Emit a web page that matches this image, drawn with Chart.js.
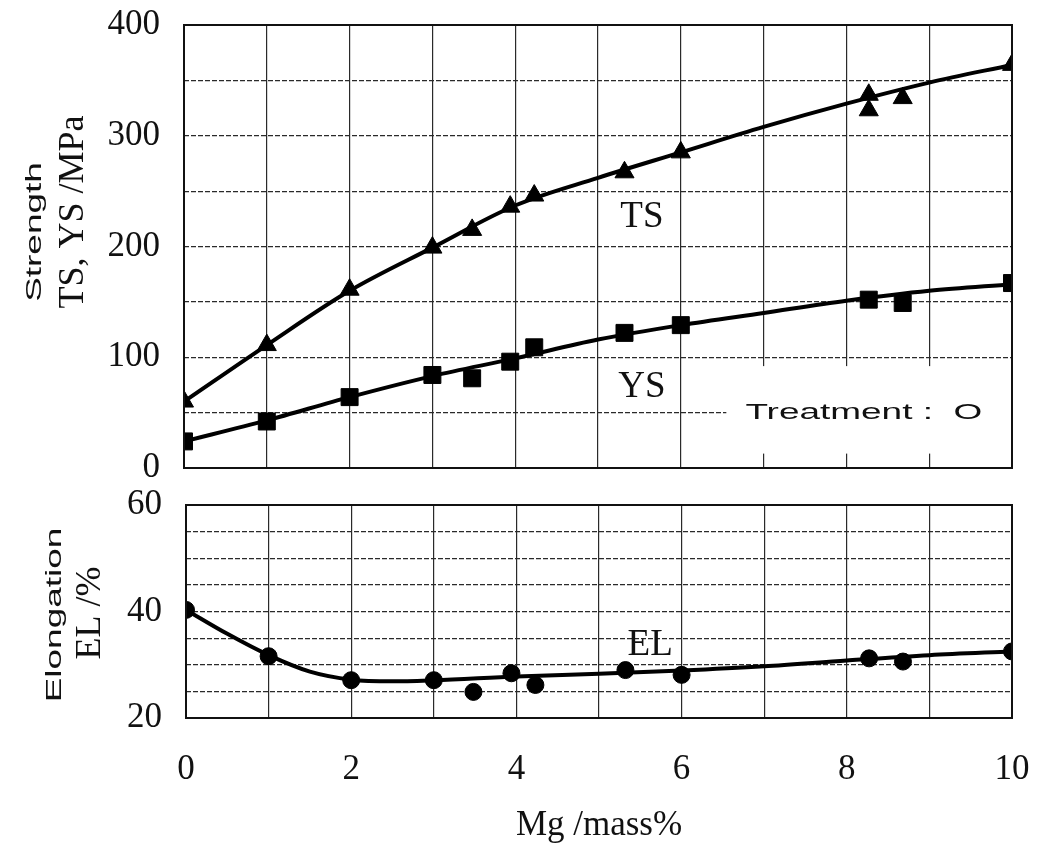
<!DOCTYPE html>
<html lang="en">
<head>
<meta charset="UTF-8">
<title>Strength and elongation vs Mg content</title>
<script src="https://cdn.jsdelivr.net/npm/chart.js"></script>
<style>
  body { margin: 0; background: #fff; }
  #wrap { position: relative; width: 1050px; height: 844px; }
  #top { position: absolute; left: 0; top: 0; }
  #bottom { position: absolute; left: 0; top: 480px; }
</style>
</head>
<body>
<div id="wrap">
  <canvas id="top" width="1050" height="500"></canvas>
  <canvas id="bottom" width="1050" height="364"></canvas>
</div>
<script>
// measured points (Mg mass%)
const mgPts = [0, 1, 2, 3, 3.48, 3.94, 4.23, 5.32, 6, 8.27, 8.68, 10];
const tsMg  = [0, 1, 2, 3, 3.48, 3.94, 4.23, 5.32, 6, 8.27, 8.27, 8.68, 10];
const tsPts = [60, 111, 161, 199, 215, 236, 246, 267, 285, 337, 323, 334, 364];
const ysPts = [24, 42, 64, 84, 81, 96, 109, 122, 129, 152, 149, 167];
const elPts = [40.3, 31.6, 27.1, 27.1, 24.9, 28.4, 26.2, 29.0, 28.1, 31.2, 30.6, 32.5];

// fitted curves
const fitMg = [0, 1, 2, 3, 4, 5, 6, 7, 8, 9, 10];
const tsFit = [60, 111, 160, 199, 237, 262, 285, 308, 329, 348, 364];
const ysFit = [24, 43, 64, 83, 99, 116, 129, 140, 151, 160, 166];
const elFitMg = [0, 0.5, 1, 1.5, 2, 2.5, 3, 4, 5, 6, 7, 8, 9, 10];
const elFit = [40.3, 35.8, 31.8, 28.7, 27.2, 26.9, 27.1, 27.8, 28.3, 28.9, 29.7, 30.8, 31.8, 32.5];

// labelled ticks
const xLabelTicks = [0, 2, 4, 6, 8, 10];
const strengthTicks = [0, 100, 200, 300, 400];
const elongTicks = [20, 40, 60];

const serif = "'Liberation Serif', 'DejaVu Serif', serif";
const sans = "'Liberation Sans', Arial, sans-serif";

function pairs(xs, ys) {
    return ys.map((y, i) => ({ x: xs[i], y: y }));
}

// frame, white box and free text labels
const decor = {
    id: 'decor',
    beforeDatasetsDraw(chart, args, opts) {
        const ctx = chart.ctx;
        const sx = chart.scales.x, sy = chart.scales.y;
        (opts.boxes || []).forEach(b => {
            const l = sx.getPixelForValue(b.x0), r = sx.getPixelForValue(b.x1);
            const t = sy.getPixelForValue(b.y1), bt = sy.getPixelForValue(b.y0);
            ctx.save();
            ctx.fillStyle = '#fff';
            ctx.fillRect(l, t, r - l, bt - t);
            ctx.restore();
        });
    },
    afterDraw(chart, args, opts) {
        const ctx = chart.ctx;
        const a = chart.chartArea;
        ctx.save();
        ctx.strokeStyle = '#111';
        ctx.lineWidth = 2;
        ctx.strokeRect(a.left, a.top, a.right - a.left, a.bottom - a.top);
        ctx.restore();

        (opts.texts || []).forEach(t => {
            let px = t.px, py = t.py;
            if (t.x !== undefined) {
                px = chart.scales.x.getPixelForValue(t.x);
                py = chart.scales.y.getPixelForValue(t.y);
            }
            ctx.save();
            ctx.translate(px, py);
            if (t.rotate) ctx.rotate(-Math.PI / 2);
            ctx.scale(t.stretch || 1, 1);
            ctx.font = t.font;
            ctx.fillStyle = '#111';
            ctx.textAlign = t.align || 'center';
            ctx.textBaseline = 'middle';
            ctx.fillText(t.text, 0, 0);
            ctx.restore();
        });
    }
};

const gridColor = '#2a2a2a';
// invisible tick marks are used as the gap between labels and the frame
const gridOpts = len => ({ color: gridColor, lineWidth: 1.2, drawTicks: true, tickLength: len, tickColor: 'rgba(0,0,0,0)' });

// ---- top panel: strength
new Chart(document.getElementById('top'), {
    type: 'scatter',
    data: {
        datasets: [
            {
                label: 'TS',
                data: pairs(tsMg, tsPts),
                pointStyle: 'triangle',
                pointRadius: 11,
                backgroundColor: '#000',
                borderColor: '#000'
            },
            {
                label: 'YS',
                data: pairs(mgPts, ysPts),
                pointStyle: 'rect',
                pointRadius: 12,
                backgroundColor: '#000',
                borderColor: '#000'
            },
            {
                label: 'TS fit',
                data: pairs(fitMg, tsFit),
                showLine: true,
                pointRadius: 0,
                borderWidth: 4,
                borderColor: '#000',
                cubicInterpolationMode: 'monotone'
            },
            {
                label: 'YS fit',
                data: pairs(fitMg, ysFit),
                showLine: true,
                pointRadius: 0,
                borderWidth: 4,
                borderColor: '#000',
                cubicInterpolationMode: 'monotone'
            }
        ]
    },
    options: {
        responsive: false,
        animation: false,
        layout: { padding: { top: 25, right: 38, bottom: 32, left: 0 } },
        plugins: {
            legend: { display: false },
            tooltip: { enabled: false },
            decor: {
                boxes: [{ x0: 6.55, x1: 10, y0: 13, y1: 92 }],
                texts: [
                    { text: 'TS', x: 5.53, y: 226, font: '37px ' + serif },
                    { text: 'YS', x: 5.53, y: 73, font: '37px ' + serif },
                    { text: 'Treatment :  O', x: 6.78, y: 50, font: '22px ' + sans, stretch: 1.68, align: 'left' },
                    { text: 'Strength', px: 35, py: 232, rotate: true, font: '22px ' + sans, stretch: 1.68 },
                    { text: 'TS, YS /MPa', px: 74, py: 212, rotate: true, font: '36px ' + serif }
                ]
            }
        },
        scales: {
            x: {
                type: 'linear',
                min: 0,
                max: 10,
                ticks: { stepSize: 1, display: false },
                grid: { color: gridColor, lineWidth: 1.2, drawTicks: false },
                border: { display: false },
                afterFit: s => { s.height = 0; }
            },
            y: {
                min: 0,
                max: 400,
                ticks: {
                    stepSize: 50,
                    autoSkip: false,
                    padding: 0,
                    color: '#111',
                    font: { family: serif, size: 35 },
                    callback: v => strengthTicks.includes(v) ? v : ''
                },
                grid: gridOpts(24),
                border: { display: false, dash: [5, 2] },
                afterFit: s => { s.width = 184; }
            }
        }
    },
    plugins: [decor]
});

// ---- bottom panel: elongation
new Chart(document.getElementById('bottom'), {
    type: 'scatter',
    data: {
        datasets: [
            {
                label: 'EL',
                data: pairs(mgPts, elPts),
                pointStyle: 'circle',
                pointRadius: 8.5,
                backgroundColor: '#000',
                borderColor: '#000'
            },
            {
                label: 'EL fit',
                data: pairs(elFitMg, elFit),
                showLine: true,
                pointRadius: 0,
                borderWidth: 4,
                borderColor: '#000',
                cubicInterpolationMode: 'monotone'
            }
        ]
    },
    options: {
        responsive: false,
        animation: false,
        layout: { padding: { top: 25, right: 38, bottom: 0, left: 0 } },
        plugins: {
            legend: { display: false },
            tooltip: { enabled: false },
            decor: {
                texts: [
                    { text: 'EL', x: 5.62, y: 33.7, font: '37px ' + serif },
                    { text: 'Elongation', px: 55, py: 135, rotate: true, font: '22px ' + sans, stretch: 1.68 },
                    { text: 'EL /%', px: 91, py: 133, rotate: true, font: '36px ' + serif }
                ]
            }
        },
        scales: {
            x: {
                type: 'linear',
                min: 0,
                max: 10,
                ticks: {
                    stepSize: 1,
                    autoSkip: false,
                    maxRotation: 0,
                    padding: 0,
                    color: '#111',
                    font: { family: serif, size: 35 },
                    callback: v => xLabelTicks.includes(v) ? v : ''
                },
                grid: gridOpts(31),
                border: { display: false },
                title: {
                    display: true,
                    text: 'Mg /mass%',
                    color: '#111',
                    font: { family: serif, size: 35, lineHeight: 1 },
                    padding: { top: 0, bottom: 1 }
                },
                afterFit: s => { s.height = 126; }
            },
            y: {
                min: 20,
                max: 60,
                ticks: {
                    stepSize: 5,
                    autoSkip: false,
                    padding: 0,
                    color: '#111',
                    font: { family: serif, size: 35 },
                    callback: v => elongTicks.includes(v) ? v : ''
                },
                grid: gridOpts(24),
                border: { display: false, dash: [5, 2] },
                afterFit: s => { s.width = 186; }
            }
        }
    },
    plugins: [decor]
});
</script>
</body>
</html>
